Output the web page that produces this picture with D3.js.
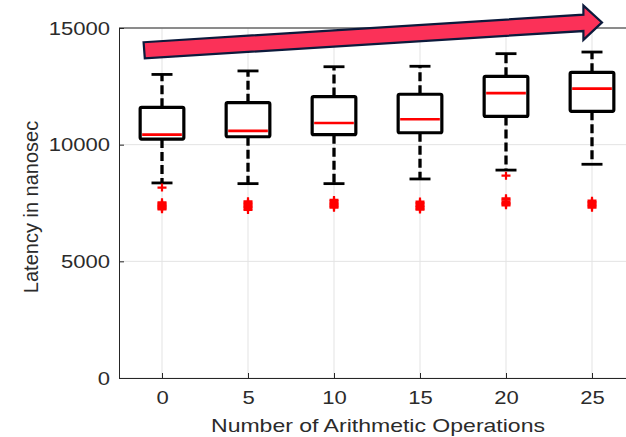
<!DOCTYPE html>
<html>
<head>
<meta charset="utf-8">
<script src="https://cdn.jsdelivr.net/npm/d3@7"></script>
<style>
  body { margin: 0; background: #fff; }
  svg { display: block; font-family: "Liberation Sans", Arial, sans-serif; }
  .tick line { stroke: #262626; }
  .domain { stroke: #262626; }
  .tick text { fill: #2b2b2b; font-size: 19px; }
</style>
</head>
<body>
<div id="okvir"></div>
<script>
// data
const kategorije = [0, 5, 10, 15, 20, 25];
const yTicks = [0, 5000, 10000, 15000];
const q1 = [10240, 10340, 10430, 10510, 11210, 11430];
const medijan = [10430, 10590, 10930, 11090, 12210, 12400];
const q3 = [11600, 11800, 12060, 12160, 12930, 13100];
const brkDolje = [8360, 8330, 8330, 8530, 8910, 9160];
const brkGore = [13010, 13160, 13340, 13360, 13900, 13970];
const outlieri = [
  [8160, 7530, 7470, 7420, 7370, 7320, 7270, 7230],
  [7570, 7510, 7450, 7390, 7330, 7270, 7200],
  [7630, 7570, 7510, 7450, 7400, 7350, 7300],
  [7560, 7500, 7440, 7380, 7320, 7260, 7220],
  [8670, 7700, 7640, 7560, 7500, 7450, 7400],
  [7600, 7540, 7480, 7420, 7360, 7300]
];
// annotation arrow (x in operations, y in nanosec)
const strelicaX = [-1.07, 24.5, 24.5, 25.58, 24.5, 24.5, -1.0];
const strelicaY = [14390, 15570, 15960, 15240, 14490, 14870, 13700];

const dim = {
  width: 626,
  height: 437,
  left: 119,
  right: 635,
  top: 28,
  bottom: 378
};

const svg = d3.select("#okvir").append("svg")
  .attr("width", dim.width)
  .attr("height", dim.height);

const x = d3.scaleLinear().domain([-2.5, 27.5]).range([dim.left, dim.right]);
const y = d3.scaleLinear().domain([0, 15000]).range([dim.bottom, dim.top]);

// grid
svg.append("g").selectAll("line").data(kategorije).join("line")
  .attr("x1", d => x(d)).attr("x2", d => x(d))
  .attr("y1", dim.top).attr("y2", dim.bottom)
  .attr("stroke", "#e3e3e3").attr("stroke-width", 1);
svg.append("g").selectAll("line").data(yTicks).join("line")
  .attr("x1", dim.left).attr("x2", dim.right)
  .attr("y1", d => y(d)).attr("y2", d => y(d))
  .attr("stroke", "#e3e3e3").attr("stroke-width", 1);

// axes
const xOs = svg.append("g")
  .attr("transform", `translate(0,${dim.bottom})`)
  .call(d3.axisBottom(x).tickValues(kategorije).tickSizeInner(-5).tickSizeOuter(0).tickPadding(13));
const yOs = svg.append("g")
  .attr("transform", `translate(${dim.left},0)`)
  .call(d3.axisLeft(y).tickValues(yTicks).tickFormat(d3.format("d")).tickSizeInner(-5).tickSizeOuter(0).tickPadding(9));
svg.append("line")
  .attr("x1", dim.left).attr("x2", dim.right)
  .attr("y1", dim.top).attr("y2", dim.top)
  .attr("stroke", "#262626");

// tekst je na slici malo razvucen vodoravno
svg.selectAll(".tick text").each(function () {
  const l = this.getComputedTextLength();
  d3.select(this).attr("textLength", l * 1.16).attr("lengthAdjust", "spacingAndGlyphs");
});

svg.append("text")
  .attr("x", 378).attr("y", 432)
  .attr("text-anchor", "middle")
  .attr("fill", "#2b2b2b")
  .style("font-size", "19px")
  .attr("textLength", 334).attr("lengthAdjust", "spacingAndGlyphs")
  .text("Number of Arithmetic Operations");

svg.append("text")
  .attr("transform", `translate(38,207) rotate(-90)`)
  .attr("text-anchor", "middle")
  .attr("fill", "#2b2b2b")
  .style("font-size", "20px")
  .text("Latency in nanosec");

// boxplot
const sirina = 2.54;
const kapa = 1.22;
const kutije = svg.append("g");
kategorije.forEach((k, i) => {
  const g = kutije.append("g");
  // whiskers
  g.append("line")
    .attr("x1", x(k)).attr("x2", x(k))
    .attr("y1", y(q3[i])).attr("y2", y(brkGore[i]))
    .attr("stroke", "#000").attr("stroke-width", 3.3).attr("stroke-dasharray", "9,4");
  g.append("line")
    .attr("x1", x(k)).attr("x2", x(k))
    .attr("y1", y(q1[i])).attr("y2", y(brkDolje[i]))
    .attr("stroke", "#000").attr("stroke-width", 3.3).attr("stroke-dasharray", "9,4");
  [brkGore[i], brkDolje[i]].forEach(v => {
    g.append("line")
      .attr("x1", x(k - kapa / 2)).attr("x2", x(k + kapa / 2))
      .attr("y1", y(v)).attr("y2", y(v))
      .attr("stroke", "#000").attr("stroke-width", 2.8);
  });
  g.append("rect")
    .attr("x", x(k - sirina / 2)).attr("width", x(sirina) - x(0))
    .attr("y", y(q3[i])).attr("height", y(q1[i]) - y(q3[i]))
    .attr("fill", "#fff").attr("stroke", "#000").attr("stroke-width", 3.2)
    .attr("rx", 1.5);
  g.append("line")
    .attr("x1", x(k - sirina / 2) + 2).attr("x2", x(k + sirina / 2) - 2)
    .attr("y1", y(medijan[i])).attr("y2", y(medijan[i]))
    .attr("stroke", "#ff0000").attr("stroke-width", 2.6);
  g.selectAll("path").data(outlieri[i]).join("path")
    .attr("transform", d => `translate(${x(k)},${y(d)})`)
    .attr("d", "M-4.5,0H4.5M0,-4V4")
    .attr("stroke", "#ff0000").attr("stroke-width", 2.2).attr("fill", "none");
});

// strelica
const tocke = strelicaX.map((v, i) => [x(v), y(strelicaY[i])]);
svg.append("path")
  .attr("d", d3.line()(tocke) + "Z")
  .attr("fill", "#fb3158")
  .attr("stroke", "#0c1a3c")
  .attr("stroke-width", 2.2)
  .attr("stroke-linejoin", "miter");
</script>
</body>
</html>
